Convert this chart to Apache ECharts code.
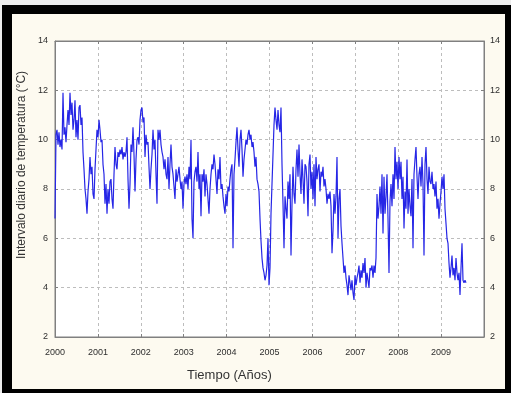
<!DOCTYPE html>
<html>
<head>
<meta charset="utf-8">
<script src="https://cdn.jsdelivr.net/npm/echarts@6/dist/echarts.min.js"></script>
<style>
html,body{margin:0;padding:0;background:#ececec;}
#wrap{position:relative;width:511px;height:393px;overflow:hidden;background:#ececec;}
#black{position:absolute;left:2px;top:5px;width:509px;height:388px;background:#000;}
#cream{position:absolute;left:12px;top:14px;width:493px;height:375px;background:#fdfaf0;}
#chart{position:absolute;left:0;top:0;width:511px;height:393px;}
</style>
</head>
<body>
<div id="wrap"><div id="black"></div><div id="cream"></div><div id="chart"></div></div>
<script>
// Daily temperature range (°C), sampled about every 8.5 days from 2000.0
const startYear = 2000.0;
const stepYears = 0.02331;
const part1 = [6.8,10.2,10.4,9.8,10.3,9.7,10.0,9.6,11.9,10.2,
10.5,9.9,10.6,11.2,10.6,11.9,11.0,11.5,10.4,10.8,
11.6,10.1,10.8,10.0,11.3,11.4,10.6,10.9,9.5,8.8,
8.0,7.6,7.0,7.9,8.4,9.3,8.6,8.9,7.8,7.6,
8.8,9.6,10.4,10.1,10.8,10.4,9.9,10.0,9.0,8.6,
7.4,8.2,7.0,8.0,7.4,8.3,8.4,7.6,7.2,8.6,
9.7,9.0,8.8,9.5,9.3,9.6,9.4,9.7,9.2,9.5,
9.3];
const part2 = [9.5,10.1,8.4,7.2,8.2,9.8,9.5,10.5,9.4,7.9,
9.2,10.0,10.1,9.8,10.8,11.2,11.3,10.7,10.9,9.3,
10.2,9.8,9.9,8.9,8.0,8.8,9.4,10.4,9.6,10.0,
8.6,7.4,10.4,10.0,10.4,9.8,9.5,9.3,8.8,9.2,
8.6,8.4,9.3,8.0,9.0,9.8,8.9,8.6,8.1,7.6,
8.8,8.3,8.6,8.9,8.4,8.0,8.3,7.2,8.2,8.5,
8.2,8.6,8.0,8.9,8.4,10.0,6.8,6.0,8.3,8.7];
const part3 = [8.9,8.3,9.5,8.0,8.6,6.9,8.6,8.3,8.8,7.7,
8.6,8.2,7.6,7.0,8.0,8.6,9.0,8.8,9.4,9.0,
8.4,7.8,8.8,8.4,9.3,8.0,8.2,7.7,7.3,7.0,
7.8,7.3,8.1,7.9,8.4,8.8,9.0,5.6,8.6,9.2,
9.9,10.5,9.6,8.9,10.0,10.4,9.6,8.5,9.2,9.6,
10.0,9.8,10.2,10.4,10.0,10.2,9.7,9.9,9.5,8.9,
9.3,8.4,8.2,7.9,6.8,5.9,5.2,4.8,4.6,4.3];
const part4 = [4.5,4.9,6.0,4.1,4.8,7.0,8.2,9.4,10.6,11.3,
10.8,10.4,11.2,10.6,10.3,11.3,9.0,7.4,5.6,7.7,
7.2,6.8,8.3,7.6,8.6,5.3,7.4,8.9,7.8,7.4,
8.8,9.6,8.5,9.8,8.6,7.8,9.2,8.4,7.4,9.0,
8.9,8.3,6.9,9.0,9.4,8.0,8.7,7.6,9.0,7.3,
9.3,8.4,8.8,9.0,7.9,8.7,8.5,8.9,8.1,8.4,
8.0,7.4,7.8,7.6,7.9,7.3,5.4,6.3,7.8,7.0];
const part5 = [7.7,9.3,6.0,7.6,8.0,6.5,5.8,5.2,4.6,4.9,
4.4,4.1,3.7,4.5,4.2,3.9,4.3,3.8,3.5,4.5,
4.1,4.4,4.6,4.9,4.2,4.7,4.4,5.0,4.6,5.2,
4.0,4.6,4.3,4.0,4.8,4.7,4.9,4.4,4.9,4.6,
5.2,7.8,6.8,7.3,8.1,7.0,8.6,6.2,8.5,7.0,
7.7,8.6,6.8,4.6,7.5,8.2,7.3,8.6,7.6,9.7,
8.4,9.1,8.0,9.3,8.4,9.1,7.6,8.5,6.4,7.9];
const part6 = [7.2,9.2,7.0,8.0,7.3,6.9,8.4,5.6,8.6,9.2,
9.7,8.5,7.6,8.6,8.9,8.1,9.3,8.2,5.3,9.0,
9.7,8.4,7.8,8.9,8.3,8.2,8.7,8.0,8.2,7.7,
8.3,7.2,7.6,6.8,7.4,7.9,8.5,8.0,8.6,7.2,
6.6,6.0,5.8,5.0,4.4,4.8,5.3,4.5,4.8,4.3,
5.2,4.6,4.3,4.6,3.7,4.8,5.8,4.3,4.2,4.3,
4.2];
const yearTicks = [2000,2001,2002,2003,2004,2005,2006,2007,2008,2009];
const yTicks = [2,4,6,8,10,12,14];
const xTitle = 'Tiempo (Años)';
const yTitle = 'Intervalo diario de temperatura (°C)';

const values = [].concat(part1, part2, part3, part4, part5, part6);
const seriesData = values.map((v, i) => [startYear + i * stepYears, v]);

const chart = echarts.init(document.getElementById('chart'), null, {renderer: 'canvas'});
const labelStyle = {color: '#2e2e2e', fontSize: 9, fontFamily: 'Arial, Liberation Sans, sans-serif'};
const dash = {type: [3, 3], color: '#bdbdbd', width: 1};
chart.setOption({
  backgroundColor: 'transparent',
  animation: false,
  grid: {left: 55, right: 27, top: 41, bottom: 56, show: true, backgroundColor: '#ffffff', borderColor: '#808080', borderWidth: 1},
  xAxis: [{
    type: 'value', min: yearTicks[0], max: 2010, interval: 1, position: 'bottom',
    axisLine: {show: true, onZero: false, lineStyle: {color: '#808080'}},
    axisTick: {show: true, inside: true, length: 3, lineStyle: {color: '#808080'}},
    axisLabel: Object.assign({margin: 11, formatter: v => yearTicks.indexOf(v) >= 0 ? String(v) : ''}, labelStyle),
    splitLine: {show: true, lineStyle: dash}
  }, {
    type: 'value', min: yearTicks[0], max: 2010, interval: 1, position: 'top',
    axisLine: {show: true, onZero: false, lineStyle: {color: '#808080'}},
    axisTick: {show: true, inside: true, length: 3, lineStyle: {color: '#808080'}},
    axisLabel: {show: false}, splitLine: {show: false}
  }],
  yAxis: [{
    type: 'value', min: yTicks[0], max: yTicks[yTicks.length - 1], interval: 2, position: 'left',
    axisLine: {show: true, onZero: false, lineStyle: {color: '#808080'}},
    axisTick: {show: true, inside: true, length: 3, lineStyle: {color: '#808080'}},
    axisLabel: Object.assign({margin: 7}, labelStyle),
    splitLine: {show: true, lineStyle: dash}
  }, {
    type: 'value', min: yTicks[0], max: yTicks[yTicks.length - 1], interval: 2, position: 'right',
    axisLine: {show: true, onZero: false, lineStyle: {color: '#808080'}},
    axisTick: {show: true, inside: true, length: 3, lineStyle: {color: '#808080'}},
    axisLabel: Object.assign({margin: 6}, labelStyle),
    splitLine: {show: false}
  }],
  graphic: [{
    type: 'text', left: 187, top: 369,
    style: {text: xTitle, fill: '#333', fontSize: 13, fontFamily: 'Arial, Liberation Sans, sans-serif'}
  }, {
    type: 'text', x: 22, y: 165, rotation: Math.PI / 2,
    style: {text: yTitle, fill: '#333', fontSize: 12, fontFamily: 'Arial, Liberation Sans, sans-serif', align: 'center', verticalAlign: 'middle'}
  }],
  series: [{
    type: 'line', xAxisIndex: 0, yAxisIndex: 0, data: seriesData,
    showSymbol: false, symbol: 'none',
    lineStyle: {color: '#2626e6', width: 1.2}
  }]
});
</script>
</body>
</html>
